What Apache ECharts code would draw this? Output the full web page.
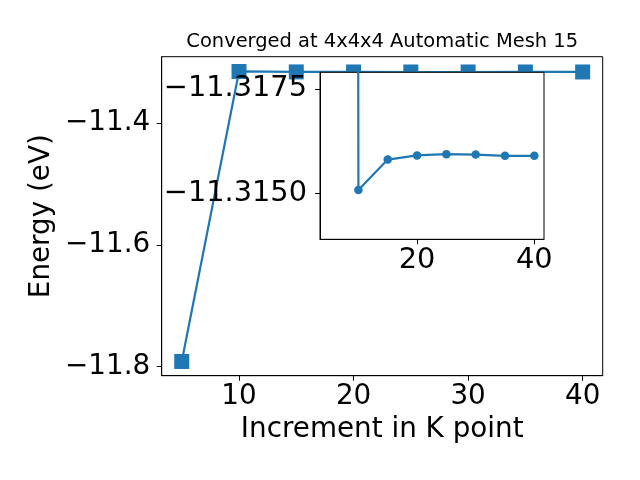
<!DOCTYPE html>
<html>
<head>
<meta charset="utf-8">
<script src="https://cdn.jsdelivr.net/npm/echarts@6/dist/echarts.min.js"></script>
<style>html,body{margin:0;padding:0;background:#fff;}#c{width:640px;height:480px;}</style>
</head>
<body>
<div id="c"></div>
<script>
const kpoints = [5, 10, 15, 20, 25, 30, 35, 40];
const energies = [-11.7918, -11.31508, -11.31581, -11.31591, -11.31594, -11.31593, -11.31590, -11.31590];
const mainXTicks = [10, 20, 30, 40];
const mainYTicks = [-11.8, -11.6, -11.4];
const insetXTicks = [20, 40];
const insetYTicks = [-11.3175, -11.3150];
const titleText = 'Converged at 4x4x4 Automatic Mesh 15';
const xLabel = 'Increment in K point';
const yLabel = 'Energy (eV)';

const FONT = 'DejaVu Sans';
const COLOR = '#1f77b4';
const pts = kpoints.map((k, i) => [k, energies[i]]);
const minus = (s) => s.replace('-', '\u2212');

const chart = echarts.init(document.getElementById('c'), null, {renderer: 'canvas'});
const tickStyle = {show: true, length: 5, lineStyle: {color: '#000', width: 1}};
const lblBase = {color: '#000', fontFamily: FONT, fontSize: 27.8};
const lblInset = {color: '#000', fontFamily: FONT, fontSize: 28.8};

chart.setOption({
  backgroundColor: '#fff',
  animation: false,
  grid: [
    {left: 161.7, top: 56.7, width: 441, height: 319, show: true, borderColor: '#000', borderWidth: 1, backgroundColor: '#fff', z: 0},
    {left: 320, top: 72.3, width: 224, height: 167, show: true, borderColor: '#000', borderWidth: 1, backgroundColor: '#fff', z: 5}
  ],
  xAxis: [
    {type: 'value', gridIndex: 0, min: 3.25, max: 41.75, position: 'bottom',
     axisLine: {show: true, onZero: false, lineStyle: {color: '#000', width: 1}},
     axisTick: Object.assign({customValues: mainXTicks}, tickStyle),
     axisLabel: Object.assign({customValues: mainXTicks, margin: 7, formatter: v => minus(String(v))}, lblBase),
     splitLine: {show: false},
     name: xLabel, nameLocation: 'middle', nameGap: 40, nameMoveOverlap: false,
     nameTextStyle: {color: '#000', fontFamily: FONT, fontSize: 27.8}},
    {type: 'value', gridIndex: 1, min: 3.45, max: 41.65, position: 'bottom', z: 6,
     axisLine: {show: true, onZero: false, lineStyle: {color: '#000', width: 1}},
     axisTick: Object.assign({customValues: insetXTicks}, tickStyle),
     axisLabel: Object.assign({customValues: insetXTicks, margin: 7, formatter: v => minus(String(v))}, lblInset),
     splitLine: {show: false}},
    {type: 'value', gridIndex: 0, min: 0, max: 1, position: 'top',
     axisLine: {show: false}, axisTick: {show: false}, axisLabel: {show: false}, splitLine: {show: false},
     name: titleText, nameLocation: 'middle', nameGap: 5, nameMoveOverlap: false,
     nameTextStyle: {color: '#000', fontFamily: FONT, fontSize: 19.44}}
  ],
  yAxis: [
    {type: 'value', gridIndex: 0, min: -11.8152, max: -11.2908,
     axisLine: {show: true, onZero: false, lineStyle: {color: '#000', width: 1}},
     axisTick: Object.assign({customValues: mainYTicks}, tickStyle),
     axisLabel: Object.assign({customValues: mainYTicks, margin: 11.5, formatter: v => minus(v.toFixed(1))}, lblBase),
     splitLine: {show: false},
     name: yLabel, nameLocation: 'middle', nameGap: 106, nameRotate: 90, nameMoveOverlap: false,
     nameTextStyle: {color: '#000', fontFamily: FONT, fontSize: 27.8}},
    {type: 'value', gridIndex: 1, min: -11.3179, max: -11.3139, inverse: true, z: 6,
     axisLine: {show: true, onZero: false, lineStyle: {color: '#000', width: 1}},
     axisTick: Object.assign({customValues: insetYTicks}, tickStyle),
     axisLabel: Object.assign({customValues: insetYTicks, margin: 13, formatter: v => minus(v.toFixed(4))}, lblInset),
     splitLine: {show: false}}
  ],
  series: [
    {type: 'line', xAxisIndex: 0, yAxisIndex: 0, data: pts, z: 2,
     symbol: 'rect', symbolSize: 15, showAllSymbol: true,
     lineStyle: {color: COLOR, width: 2.2}, itemStyle: {color: COLOR}},
    {type: 'line', xAxisIndex: 1, yAxisIndex: 1, data: pts, z: 7,
     symbol: 'circle', symbolSize: 8.5, showAllSymbol: true, clip: true,
     lineStyle: {color: COLOR, width: 2.2}, itemStyle: {color: COLOR}}
  ]
});
</script>
</body>
</html>
